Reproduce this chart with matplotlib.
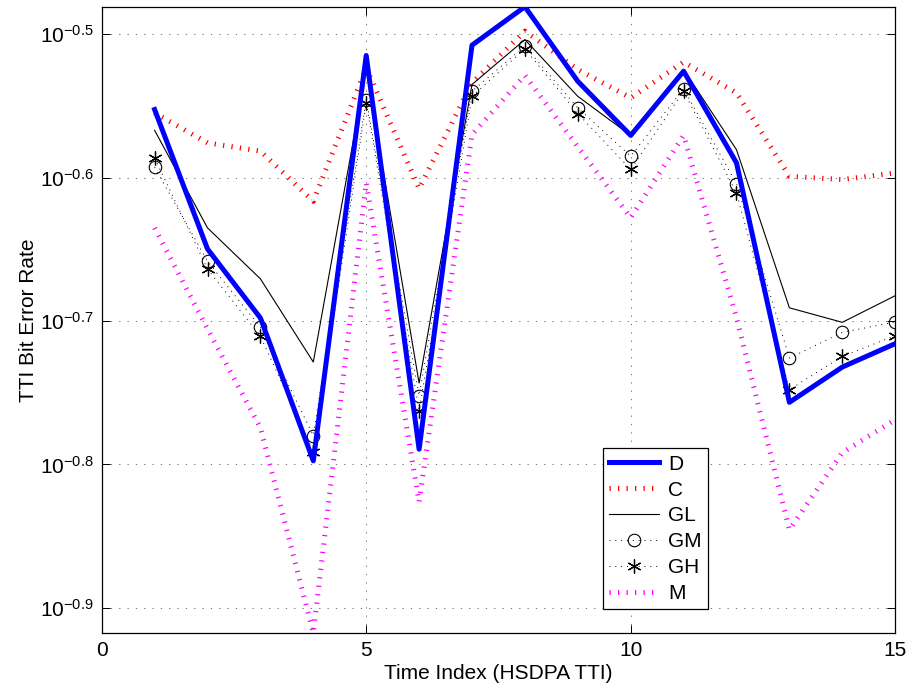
import numpy as np
import matplotlib
matplotlib.use('Agg')
import matplotlib.pyplot as plt
from matplotlib.ticker import FixedLocator, FixedFormatter, NullLocator

plt.rcParams['font.family'] = ['Liberation Sans', 'DejaVu Sans']
plt.rcParams['mathtext.fontset'] = 'custom'
plt.rcParams['mathtext.rm'] = 'Liberation Sans'
plt.rcParams['mathtext.it'] = 'Liberation Sans'
plt.rcParams['mathtext.default'] = 'regular'

tti = np.arange(1, 16)

ber_d = [0.2802, 0.2240, 0.2005, 0.1594, 0.3056, 0.1624, 0.3107, 0.3305,
         0.2932, 0.2688, 0.2980, 0.2572, 0.1751, 0.1853, 0.1924]
ber_c = [0.2787, 0.2656, 0.2621, 0.2418, 0.2996, 0.2468, 0.2925, 0.3178,
         0.2988, 0.2855, 0.3024, 0.2878, 0.2517, 0.2504, 0.2531]
ber_gl = [0.2710, 0.2317, 0.2135, 0.1868, 0.2988, 0.1806, 0.2917, 0.3135,
          0.2862, 0.2688, 0.2988, 0.2627, 0.2038, 0.1991, 0.2078]
ber_gm = [0.2554, 0.2196, 0.1975, 0.1660, 0.2847, 0.1770, 0.2886, 0.3102,
          0.2809, 0.2600, 0.2897, 0.2487, 0.1880, 0.1959, 0.1992]
ber_gh = [0.2592, 0.2169, 0.1947, 0.1618, 0.2832, 0.1728, 0.2862, 0.3089,
          0.2784, 0.2545, 0.2886, 0.2451, 0.1787, 0.1885, 0.1949]
ber_m = [0.2317, 0.1970, 0.1681, 0.1209, 0.2491, 0.1492, 0.2692, 0.2960,
         0.2639, 0.2355, 0.2688, 0.2006, 0.1427, 0.1615, 0.1703]

ytick_exp = [-0.9, -0.8, -0.7, -0.6, -0.5]
xticks = [0, 5, 10, 15]

fs = 15
fig = plt.figure(figsize=(9.13, 6.93), dpi=100)
ax = fig.add_axes([0.1114, 0.0866, 0.8691, 0.9037])

dotted = (0, (0.25, 1.45))
ax.plot(tti, ber_d, color='#0000ff', lw=3.6, label='D', zorder=6)
ax.plot(tti, ber_c, color='#ff0000', lw=3.6, ls=dotted, dash_capstyle='butt', label='C', zorder=3)
ax.plot(tti, ber_gl, color='black', lw=0.8, label='GL', zorder=5)
ax.plot(tti, ber_gm, color='black', lw=0.7, ls=(0, (1, 5)), marker='o', ms=9,
        mfc='none', mec='black', mew=0.8, label='GM', zorder=4)
ax.plot(tti, ber_gh, color='black', lw=0.7, ls=(0, (1, 5)), marker=(6, 2, 0), ms=10,
        mec='black', mew=0.9, label='GH', zorder=4)
ax.plot(tti, ber_m, color='#ff00ff', lw=3.6, ls=dotted, dash_capstyle='butt', label='M', zorder=3)

ax.set_yscale('log')
ax.set_xlim(0, 15)
# tight limits like matlab's axis tight
all_vals = np.concatenate([ber_d, ber_c, ber_gl, ber_gm, ber_gh, ber_m])
ax.set_ylim(all_vals.min(), all_vals.max())

ax.yaxis.set_major_locator(FixedLocator([10 ** e for e in ytick_exp]))
ax.yaxis.set_major_formatter(FixedFormatter([r'$10^{%.1f}$' % e for e in ytick_exp]))
ax.yaxis.set_minor_locator(NullLocator())
ax.set_xticks(xticks)

ax.grid(True, which='major', color='0.35', lw=0.6, ls=(0, (1.5, 8.5)), zorder=1)
ax.tick_params(direction='in', length=6, width=0.7, top=True, right=True,
               labelsize=fs, pad=6)
for s in ax.spines.values():
    s.set_linewidth(0.9)

ax.set_xlabel('Time Index (HSDPA TTI)', fontsize=fs, labelpad=3)
ax.set_ylabel('TTI Bit Error Rate', fontsize=fs)
ax.yaxis.set_label_coords(-0.080, 0.5)

leg = ax.legend(loc='lower left', bbox_to_anchor=(0.6601, 0.1208), bbox_transform=fig.transFigure,
                fontsize=fs, fancybox=False, edgecolor='black', framealpha=1,
                handlelength=2.4, handletextpad=0.45, labelspacing=0.33,
                borderpad=0.3, borderaxespad=0, numpoints=1)
leg.get_frame().set_linewidth(0.9)

fig.savefig('out.png', dpi=100)
